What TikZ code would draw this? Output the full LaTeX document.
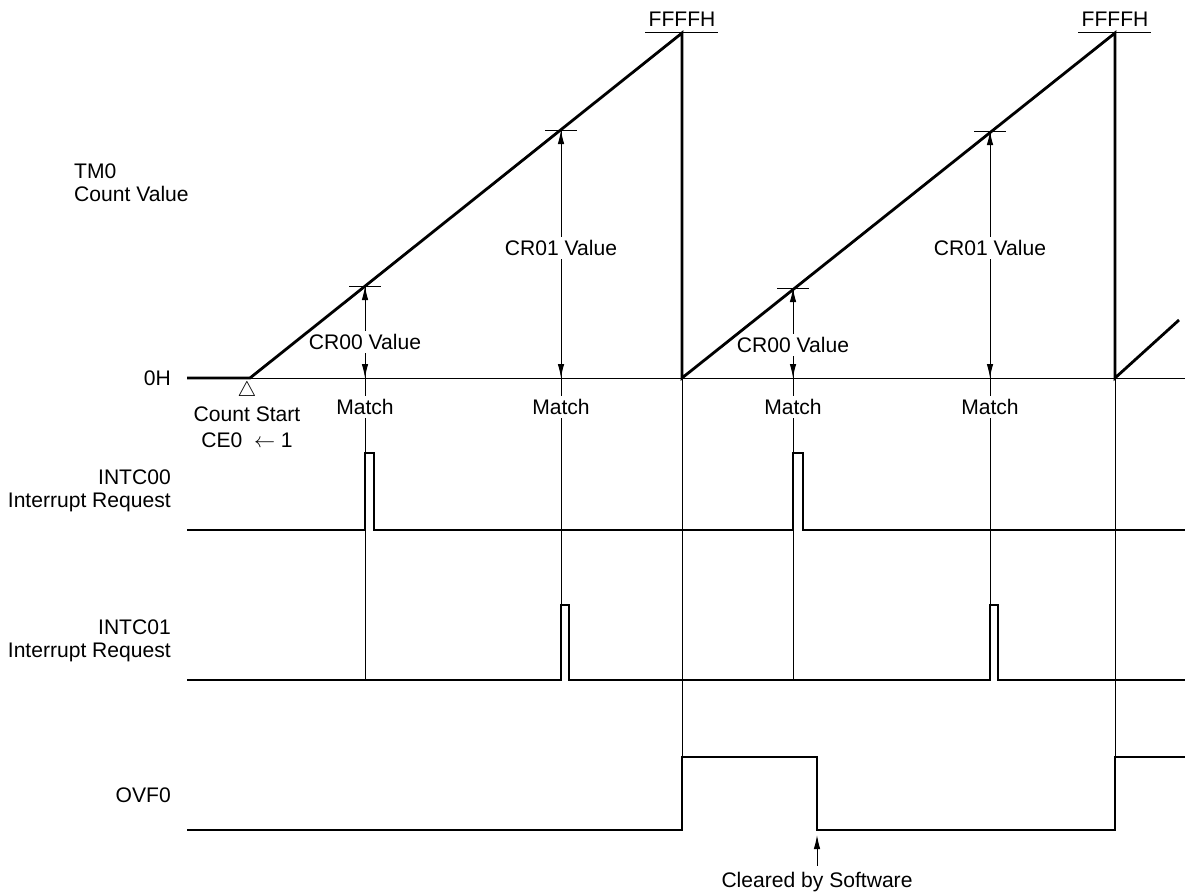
\documentclass[tikz,border=0pt]{standalone}
\usepackage{fontspec}
\setmainfont{Liberation Sans}
\usetikzlibrary{
    arrows.meta,
    positioning
}

\begin{document}
\begin{tikzpicture}[
x=0.02cm, y=-0.02cm,
font=\fontsize{12}{13.2}\selectfont,
sig/.style={line width=1.6pt},
guide/.style={line width=0.55pt},
dimline/.style={
line width=0.55pt,
-{Latex[length=2.8mm, width=1.3mm]}
},
lbl/.style={fill=white, inner sep=2pt},
side/.style={anchor=east, align=right}
]
\useasboundingbox (0,0) rectangle (1185,894);

\coordinate (start) at (250,378);
\coordinate (top1) at (682,33);
\coordinate (top2) at (1115,33);
\coordinate (cr0a) at (365,286);
\coordinate (cr1a) at (561,130);
\coordinate (cr0b) at (793,288);
\coordinate (cr1b) at (990,131);

\draw[guide] (start) -- (1185,378);
\draw[guide] (cr0a) -- (365,680);
\draw[guide] (cr1a) -- (561,680);
\draw[guide] (cr0b) -- (793,680);
\draw[guide] (cr1b) -- (990,680);
\draw[guide] (682,378) -- (682,830);
\draw[guide] (1115,378) -- (1115,830);

\foreach \p in {cr0a, cr1a, cr0b, cr1b}
  \draw[guide] ([xshift=-0.32cm]\p) -- ([xshift=0.32cm]\p);
\draw[guide] (top1) ++(-37,-1) -- ++(73,0);
\draw[guide] (top2) ++(-37,-1) -- ++(73,0);

\node (ff1) at (682,19) {FFFFH};
\node (ff2) at (1115,19) {FFFFH};

\node[lbl] (v0a) at (365,342) {CR00 Value};
\node[lbl] (v1a) at (561,248) {CR01 Value};
\node[lbl] (v0b) at (793,345) {CR00 Value};
\node[lbl] (v1b) at (990,248) {CR01 Value};

\draw[dimline] (v0a) -- (cr0a);
\draw[dimline] (v0a) -- (365,378);
\draw[dimline] (v1a) -- (cr1a);
\draw[dimline] (v1a) -- (561,378);
\draw[dimline] (v0b) -- (cr0b);
\draw[dimline] (v0b) -- (793,378);
\draw[dimline] (v1b) -- (cr1b);
\draw[dimline] (v1b) -- (990,378);

\node[lbl] (m0a) at (365,407) {Match};
\node[lbl] (m1a) at (561,407) {Match};
\node[lbl] (m0b) at (793,407) {Match};
\node[lbl] (m1b) at (990,407) {Match};

\draw[sig] (187,378) -- (start) -- (top1) -- (682,378)
  -- (top2) -- (1115,378) -- (1179,320);

\draw[sig] (187,530) -- (365,530) -- (365,453) -- (374,453)
  -- (374,530) -- (793,530) -- (793,453) -- (803,453)
  -- (803,530) -- (1185,530);

\draw[sig] (187,680) -- (561,680) -- (561,605) -- (569,605)
  -- (569,680) -- (990,680) -- (990,605) -- (998,605)
  -- (998,680) -- (1185,680);

\draw[sig] (187,830) -- (682,830) -- (682,757) -- (817,757)
  -- (817,830) -- (1115,830) -- (1115,757) -- (1185,757);

\node[anchor=west, align=left] (tm0) at (68,183)
{TM0\\Count Value};
\node[anchor=east] (zero) at (177,378) {0H};
\node[inner sep=0pt] (tri) at (247,391) {$\triangle$};
\node[align=center, below=0pt of tri,
font=\fontsize{12}{14.5}\selectfont] (cstart)
{Count Start\\CE0 \ $\leftarrow$ 1};

\node[side] (intc0) at (177,491)
{INTC00\\Interrupt Request};
\node[side] (intc1) at (177,641)
{INTC01\\Interrupt Request};
\node[side] (ovf) at (177,795) {OVF0};

\node (clr) at (817,882) {Cleared by Software};
\draw[dimline] (clr.north) -- (817,835);

\end{tikzpicture}
\end{document}
